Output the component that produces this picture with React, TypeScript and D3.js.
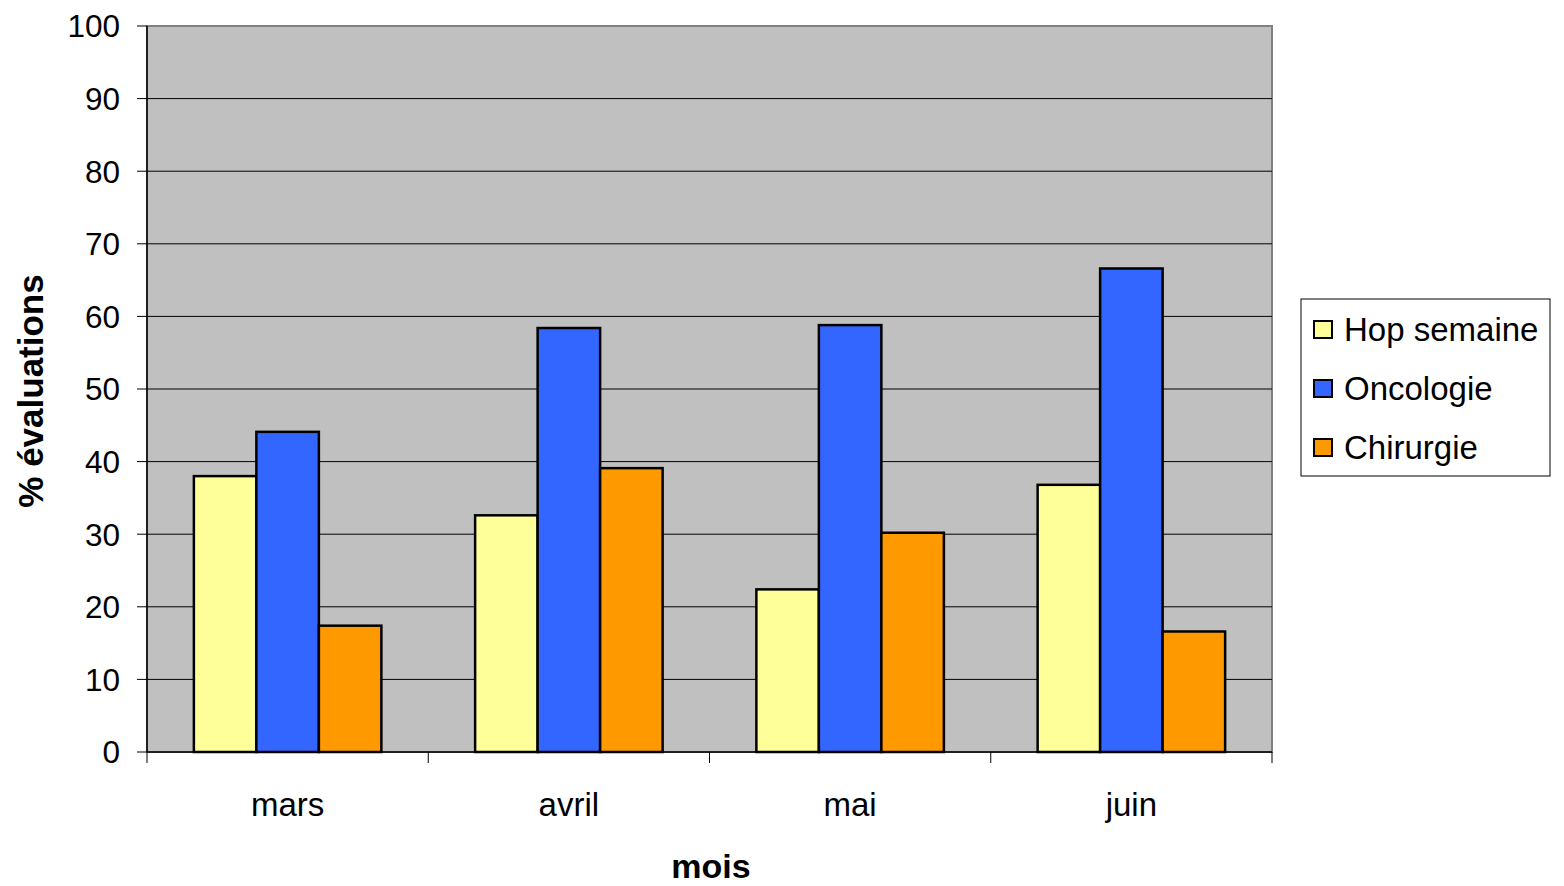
import { useMemo } from 'react';
import { scaleBand, scaleLinear } from 'd3';

const MONTHS = ['mars', 'avril', 'mai', 'juin'];
const SERIES = ['Hop semaine', 'Oncologie', 'Chirurgie'];
const HOP_SEMAINE = [38.0, 32.6, 22.4, 36.8];
const ONCOLOGIE = [44.1, 58.4, 58.8, 66.6];
const CHIRURGIE = [17.4, 39.1, 30.2, 16.6];
const COLORS = ['#ffff99', '#3366ff', '#ff9900'];
const Y_TICKS = [0, 10, 20, 30, 40, 50, 60, 70, 80, 90, 100];

const W = 1564;
const H = 886;
const M = { top: 26, left: 147, right: 1272, bottom: 752 };
const FONT = '"Liberation Sans", Arial, sans-serif';

export default function App() {
  const values = [HOP_SEMAINE, ONCOLOGIE, CHIRURGIE];

  const { x, y, inner } = useMemo(() => {
    const x = scaleBand<string>().domain(MONTHS).range([M.left, M.right]).paddingInner(0).paddingOuter(0);
    const y = scaleLinear().domain([0, 100]).range([M.bottom, M.top]);
    // Excel gap width 150%: bar = category / (3 + 1.5)
    const inner = scaleBand<string>()
      .domain(SERIES)
      .range([0, x.bandwidth()])
      .paddingInner(0)
      .paddingOuter(0.75);
    return { x, y, inner };
  }, []);

  const catEdges = [...MONTHS.map((m) => x(m)!), M.right];

  return (
    <div style={{ margin: -8 }}>
      <svg width={W} height={H} style={{ display: 'block', background: '#fff' }} fontFamily={FONT}>
        <rect x={M.left} y={M.top} width={M.right - M.left} height={M.bottom - M.top} fill="#c0c0c0" stroke="#808080" strokeWidth={2} />
        {Y_TICKS.map((t) => (
          <g key={t}>
            {t > 0 && t < 100 && <line x1={M.left} x2={M.right} y1={y(t)} y2={y(t)} stroke="#000" strokeWidth={1} />}
            <line x1={M.left - 10} x2={M.left} y1={y(t)} y2={y(t)} stroke="#000" strokeWidth={1} />
            <text x={M.left - 27} y={y(t)} dy="0.36em" textAnchor="end" fontSize={31.5} fill="#000">
              {t}
            </text>
          </g>
        ))}
        {MONTHS.map((m, i) => (
          <g key={m}>
            {SERIES.map((s, j) => {
              const v = values[j][i];
              return (
                <rect
                  key={s}
                  x={x(m)! + inner(s)!}
                  y={y(v)}
                  width={inner.bandwidth()}
                  height={y(0) - y(v)}
                  fill={COLORS[j]}
                  stroke="#000"
                  strokeWidth={2.5}
                />
              );
            })}
            <text x={x(m)! + x.bandwidth() / 2} y={M.bottom + 52} dy="0.36em" textAnchor="middle" fontSize={33} fill="#000">
              {m}
            </text>
          </g>
        ))}
        <line x1={M.left} x2={M.left} y1={M.top} y2={M.bottom} stroke="#000" strokeWidth={1.5} />
        <line x1={M.left} x2={M.right} y1={M.bottom} y2={M.bottom} stroke="#000" strokeWidth={1.5} />
        {catEdges.map((e, i) => (
          <line key={i} x1={e} x2={e} y1={M.bottom} y2={M.bottom + 11} stroke="#000" strokeWidth={1} />
        ))}
        <text
          transform={`translate(30,391) rotate(-90)`}
          dy="0.36em"
          textAnchor="middle"
          fontSize={35}
          fontWeight="bold"
        >
          % évaluations
        </text>
        <text x={711} y={878} textAnchor="middle" fontSize={34} fontWeight="bold">
          mois
        </text>
        <g transform="translate(1301,299)">
          <rect width={249} height={177} fill="#fff" stroke="#000" strokeWidth={1} />
          {SERIES.map((s, j) => (
            <g key={s} transform={`translate(0,${30 + j * 59})`}>
              <rect x={13} y={-8} width={18} height={17} fill={COLORS[j]} stroke="#000" strokeWidth={2} />
              <text x={43} y={0} dy="0.36em" fontSize={33} fill="#000">
                {s}
              </text>
            </g>
          ))}
        </g>
      </svg>
    </div>
  );
}
